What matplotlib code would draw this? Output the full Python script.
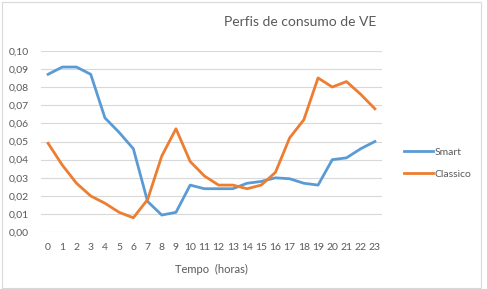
import matplotlib
matplotlib.use("Agg")
import matplotlib.pyplot as plt
from matplotlib.patches import Rectangle

hours = list(range(24))
smart = [0.087, 0.091, 0.091, 0.087, 0.063, 0.055, 0.046, 0.017, 0.0095, 0.011,
         0.026, 0.024, 0.024, 0.024, 0.027, 0.028, 0.030, 0.0295, 0.027, 0.026,
         0.040, 0.041, 0.046, 0.050]
classico = [0.049, 0.037, 0.027, 0.020, 0.016, 0.011, 0.008, 0.018, 0.042, 0.057,
            0.039, 0.031, 0.026, 0.026, 0.024, 0.026, 0.033, 0.052, 0.062, 0.085,
            0.080, 0.083, 0.076, 0.068]
yticks = [0.00, 0.01, 0.02, 0.03, 0.04, 0.05, 0.06, 0.07, 0.08, 0.09, 0.10]
ytick_labels = ["0,00", "0,01", "0,02", "0,03", "0,04", "0,05", "0,06", "0,07", "0,08", "0,09", "0,10"]

plt.rcParams['font.family'] = ['Lato', 'DejaVu Sans']
txt = '#595959'

W, H = 487, 289
fig = plt.figure(figsize=(W/100, H/100), dpi=100)
fig.patches.append(Rectangle((2/W, 1/H), (481-2)/W, (287-1)/H, transform=fig.transFigure,
                             fill=False, edgecolor='#d9d9d9', linewidth=0.8))

ax = fig.add_axes([41/W, (H-232.3)/H, (382-41)/W, (232.3-50.7)/H])
ax.plot(hours, smart, color='#5B9BD5', linewidth=2.0, label='Smart')
ax.plot(hours, classico, color='#ED7D31', linewidth=2.0, label='Classico')

ax.set_xlim(-0.5, 23.5)
ax.set_ylim(0, 0.10)
ax.set_yticks(yticks)
ax.set_yticklabels(ytick_labels)
ax.set_xticks(hours)
ax.set_xticklabels([str(h) for h in hours])
ax.tick_params(axis='both', length=0, labelsize=7.5, colors=txt)
ax.tick_params(axis='x', pad=8)
ax.tick_params(axis='y', pad=9)
for s in ax.spines.values():
    s.set_visible(False)
ax.grid(axis='y', color='#d9d9d9', linewidth=0.8)
ax.set_axisbelow(True)
ax.set_xlabel('Tempo  (horas)', fontsize=8, color=txt, labelpad=8)

fig.text(300/W, (H-22)/H, 'Perfis de consumo de VE', ha='center', va='center',
         fontsize=10, color=txt)

leg = ax.legend(loc='center left', bbox_to_anchor=(400/W, (H-163)/H), bbox_transform=fig.transFigure,
                frameon=False, fontsize=7.5, handlelength=2.8, handletextpad=0.1, labelspacing=1.2,
                borderaxespad=0)
for t in leg.get_texts():
    t.set_color(txt)

fig.savefig('out.png', dpi=100)
